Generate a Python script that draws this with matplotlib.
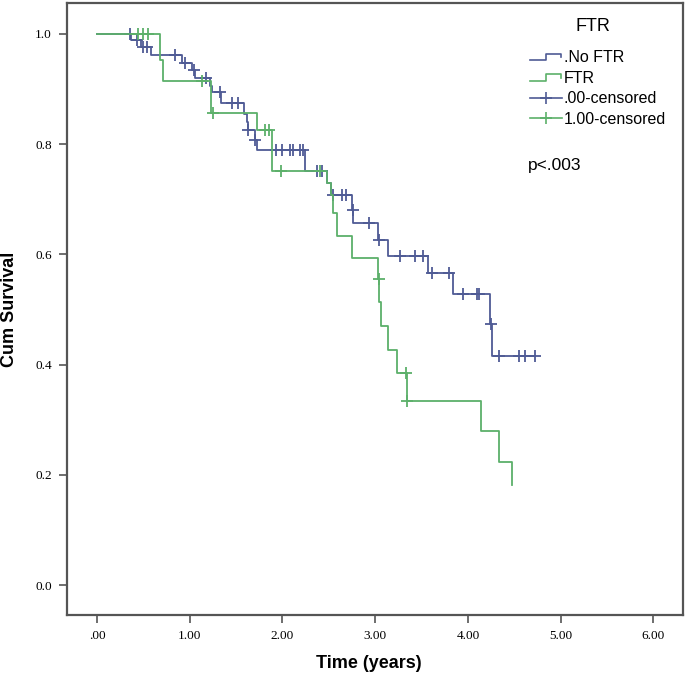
"""
Kaplan-Meier style survival curves, FTR vs No FTR (values read off the published figure).
Writes out.png
"""
import matplotlib
matplotlib.use('Agg')
import matplotlib.pyplot as plt
from matplotlib.lines import Line2D
from matplotlib.legend_handler import HandlerBase

# --- data (time in years, cumulative survival after each step) ---
noftr_t = [0, 0.37, 0.47, 0.58, 0.92, 1.02, 1.06, 1.22, 1.24, 1.34, 1.58, 1.62, 1.63,
           1.70, 1.73, 2.24, 2.48, 2.52, 2.755, 2.765, 3.03, 3.14, 3.57, 3.84, 4.24,
           4.26, 4.72]
noftr_s = [1.0, 0.988, 0.976, 0.962, 0.947, 0.935, 0.920, 0.905, 0.895, 0.875, 0.855,
           0.840, 0.826, 0.808, 0.789, 0.752, 0.730, 0.708, 0.680, 0.657, 0.626, 0.597,
           0.566, 0.528, 0.474, 0.416, 0.416]

noftr_cens_t = [0.36, 0.43, 0.50, 0.54, 0.84, 0.95, 1.05, 1.17, 1.33, 1.46, 1.52, 1.63,
                1.70, 1.93, 1.99, 2.08, 2.11, 2.19, 2.22, 2.37, 2.43, 2.55, 2.64, 2.68,
                2.76, 2.93, 3.04, 3.27, 3.43, 3.52, 3.61, 3.80, 3.95, 4.10, 4.12, 4.25,
                4.33, 4.55, 4.62, 4.72]
noftr_cens_s = [1.0, 0.988, 0.976, 0.976, 0.962, 0.947, 0.935, 0.920, 0.895, 0.875,
                0.875, 0.826, 0.808, 0.789, 0.789, 0.789, 0.789, 0.789, 0.789, 0.752,
                0.752, 0.708, 0.708, 0.708, 0.680, 0.657, 0.626, 0.597, 0.597, 0.597,
                0.566, 0.566, 0.528, 0.528, 0.528, 0.474, 0.416, 0.416, 0.416, 0.416]

ftr_t = [0, 0.68, 0.71, 1.23, 1.72, 1.89, 2.48, 2.52, 2.55, 2.59, 2.75, 3.03, 3.045,
         3.065, 3.14, 3.24, 3.34, 4.14, 4.33, 4.48]
ftr_s = [1.0, 0.952, 0.915, 0.857, 0.825, 0.752, 0.730, 0.708, 0.675, 0.633, 0.593,
         0.555, 0.514, 0.470, 0.427, 0.385, 0.334, 0.280, 0.223, 0.181]

ftr_cens_t = [0.44, 0.50, 0.55, 1.13, 1.25, 1.81, 1.85, 1.98, 2.40, 3.04, 3.33, 3.34]
ftr_cens_s = [1.0, 1.0, 1.0, 0.915, 0.857, 0.825, 0.825, 0.752, 0.752, 0.555, 0.385, 0.334]

x_ticks = [0, 1, 2, 3, 4, 5, 6]
x_labels = ['.00', '1.00', '2.00', '3.00', '4.00', '5.00', '6.00']
y_ticks = [0.0, 0.2, 0.4, 0.6, 0.8, 1.0]
y_labels = ['0.0', '0.2', '0.4', '0.6', '0.8', '1.0']
legend_labels = ['.No FTR', 'FTR', '.00-censored', '1.00-censored']

BLUE = '#4f5b95'
GREEN = '#5cb06a'
FRAME = '#555555'


class StepHandler(HandlerBase):
    # little step glyph like the SPSS legend icon
    def create_artists(self, legend, orig_handle, xdescent, ydescent, width, height,
                       fontsize, trans):
        fx = [0.0, 0.5, 0.5, 0.95, 0.95]
        fy = [0.15, 0.15, 0.75, 0.75, 0.45]
        xs = [f * width - xdescent for f in fx]
        ys = [f * height - ydescent for f in fy]
        ln = Line2D(xs, ys, color=orig_handle.get_color(), lw=1.2)
        ln.set_transform(trans)
        return [ln]


fig = plt.figure(figsize=(6.85, 6.78), dpi=100)
ax = fig.add_axes([0.0978, 0.0929, 0.8993, 0.9027])

ax.step(noftr_t, noftr_s, where='post', color=BLUE, lw=1.3)
ax.plot(noftr_cens_t, noftr_cens_s, ls='none', marker='+', ms=8, mew=1.3, color=BLUE)
ax.step(ftr_t, ftr_s, where='post', color=GREEN, lw=1.3)
ax.plot(ftr_cens_t, ftr_cens_s, ls='none', marker='+', ms=8, mew=1.3, color=GREEN)

ax.set_xlim(-0.324, 6.32)
ax.set_ylim(-0.0544, 1.056)

ax.set_xticks(x_ticks)
ax.set_xticklabels(x_labels, family='Liberation Serif', fontsize=9.5)
ax.set_yticks(y_ticks)
ax.set_yticklabels(y_labels, family='Liberation Serif', fontsize=9.5)
ax.tick_params(direction='out', length=6, width=1.2, color=FRAME, pad=5)
for sp in ax.spines.values():
    sp.set_color(FRAME)
    sp.set_linewidth(1.6)

ax.set_xlabel('Time (years)', family=['Liberation Sans Narrow', 'Liberation Sans'],
              fontweight='bold', fontsize=13)
ax.set_ylabel('Cum Survival', family='Liberation Sans', fontweight='bold', fontsize=13)
ax.xaxis.set_label_coords(0.49, -0.066)
ax.yaxis.set_label_coords(-0.080, 0.5)

handles = [Line2D([], [], color=BLUE), Line2D([], [], color=GREEN),
           Line2D([0], [0], color=BLUE, marker='+', ms=9, mew=1.2, lw=1.2),
           Line2D([0], [0], color=GREEN, marker='+', ms=9, mew=1.2, lw=1.2)]
leg = ax.legend(handles, legend_labels, loc='upper left',
                bbox_to_anchor=(0.752, 0.9232), frameon=False,
                handler_map={handles[0]: StepHandler(), handles[1]: StepHandler()},
                prop={'family': 'Liberation Sans', 'size': 11.5},
                handlelength=2.0, handletextpad=0.1, labelspacing=0.35,
                borderaxespad=0, borderpad=0)

ax.text(0.853, 0.961, 'FTR', transform=ax.transAxes, family='Liberation Sans',
        fontsize=13, va='center', ha='center')
ax.text(0.748, 0.735, 'p<.003', transform=ax.transAxes, family='Liberation Sans',
        fontsize=12.5, va='center', ha='left')

fig.savefig('out.png', dpi=100)
